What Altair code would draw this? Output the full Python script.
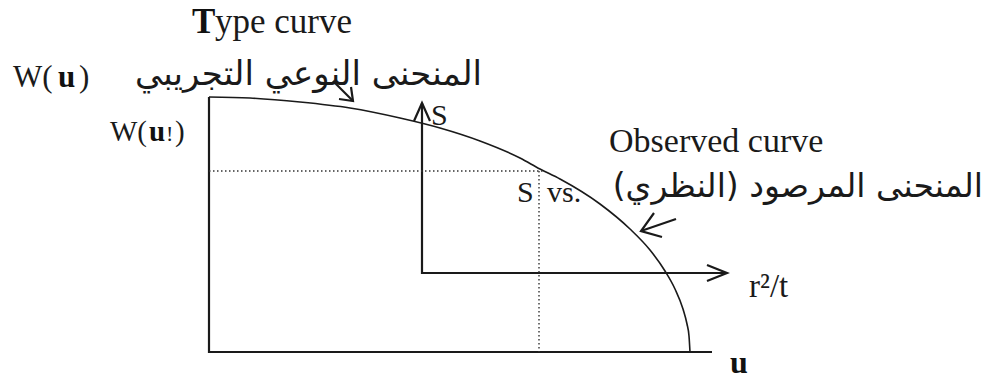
import altair as alt
import pandas as pd

W, H = 992, 380

# Type curve W(u) against u, drawn in diagram units (origin top-left)
curve_x = [209, 250, 300, 350, 400, 440, 480, 520, 540, 560, 600, 630, 650, 665, 675, 683, 687, 689, 690]
curve_y = [97, 98, 102, 108, 118, 128, 141, 158, 169, 179, 204, 229, 250, 271, 289, 309, 324, 336, 352]

# Solid strokes: outer W(u)-u frame, inner S vs r^2/t axes, arrowheads and pointers
frame_x = [209, 209, 712]
frame_y = [97, 352, 352]
inner_x = [422, 422, 727]
inner_y = [103, 273, 273]
up_head_x = [414, 422, 430]
up_head_y = [121, 103, 121]
right_head_x = [707, 727, 707]
right_head_y = [265, 273, 281]
obs_shaft_x = [641, 676]
obs_shaft_y = [231, 219]
obs_head_x = [654, 641, 662]
obs_head_y = [213, 231, 237]
type_shaft_x = [333, 353]
type_shaft_y = [81, 101]
type_head_x = [339, 353, 351]
type_head_y = [99, 101, 87]

# Dotted match-point guides
dot_h_x = [209, 543]
dot_h_y = [171, 171]
dot_v_x = [539, 539]
dot_v_y = [171, 352]

# Labels
serif_text = ["ype curve", "W(", ")", "W(", "!", ")", "S", "S", "vs.", "Observed curve", "r²/t"]
serif_x = [215, 13, 79, 110, 166, 175, 431, 517, 547, 609, 749]
serif_y = [33, 87, 87, 141, 141, 141, 125, 202, 202, 152, 297]
serif_size = [35, 31, 31, 29, 22, 29, 30, 30, 30, 34, 33]
bold_text = ["T", "u", "u", "u"]
bold_x = [192, 58, 149, 730]
bold_y = [33, 87, 141, 373]
bold_size = [35, 31, 29, 32]
arabic_text = ["المنحنى النوعي التجريبي", "المنحنى المرصود (النظري)"]
arabic_x = [482, 983]
arabic_y = [85, 197]
arabic_size = [34, 33]


def path_frame(groups):
    rows = []
    for gid, (xs, ys) in enumerate(groups):
        for i, (a, b) in enumerate(zip(xs, ys)):
            rows.append({"g": gid, "i": i, "x": a, "y": b})
    return pd.DataFrame(rows)


xs = alt.Scale(domain=[0, W], nice=False, zero=False)
ys = alt.Scale(domain=[0, H], nice=False, zero=False, reverse=True)
X = alt.X("x:Q", scale=xs, axis=None)
Y = alt.Y("y:Q", scale=ys, axis=None)
S = alt.Size("s:Q", scale=None, legend=None)

solid = alt.Chart(path_frame([
    (frame_x, frame_y), (inner_x, inner_y), (up_head_x, up_head_y),
    (right_head_x, right_head_y), (obs_shaft_x, obs_shaft_y), (obs_head_x, obs_head_y),
    (type_shaft_x, type_shaft_y), (type_head_x, type_head_y),
])).mark_line(color="#1a1a1a", strokeWidth=2.2, strokeCap="butt", strokeJoin="miter").encode(
    x=X, y=Y, detail="g:N", order="i:Q"
)

curve = alt.Chart(path_frame([(curve_x, curve_y)])).mark_line(
    color="#1a1a1a", strokeWidth=1.6, interpolate="monotone"
).encode(x=X, y=Y, order="i:Q")

dotted = alt.Chart(path_frame([(dot_h_x, dot_h_y), (dot_v_x, dot_v_y)])).mark_line(
    color="#333333", strokeWidth=1.4, strokeDash=[1.5, 2.5]
).encode(x=X, y=Y, detail="g:N", order="i:Q")

serif = alt.Chart(pd.DataFrame({"t": serif_text, "x": serif_x, "y": serif_y, "s": serif_size})).mark_text(
    font="Liberation Serif", align="left", baseline="alphabetic", color="#1a1a1a"
).encode(x=X, y=Y, text="t:N", size=S)

bold = alt.Chart(pd.DataFrame({"t": bold_text, "x": bold_x, "y": bold_y, "s": bold_size})).mark_text(
    font="Liberation Serif", fontWeight="bold", align="left", baseline="alphabetic", color="#111111"
).encode(x=X, y=Y, text="t:N", size=S)

arabic = alt.Chart(pd.DataFrame({"t": arabic_text, "x": arabic_x, "y": arabic_y, "s": arabic_size})).mark_text(
    font="DejaVu Sans", align="right", baseline="alphabetic", color="#1a1a1a"
).encode(x=X, y=Y, text="t:N", size=S)

chart = alt.layer(solid, curve, dotted, serif, bold, arabic).properties(
    width=W, height=H, padding=0, background="white",
    autosize=alt.AutoSizeParams(type="none")
).configure_view(stroke=None)

chart.save("out.html", embed_options={"renderer": "svg", "actions": False})
